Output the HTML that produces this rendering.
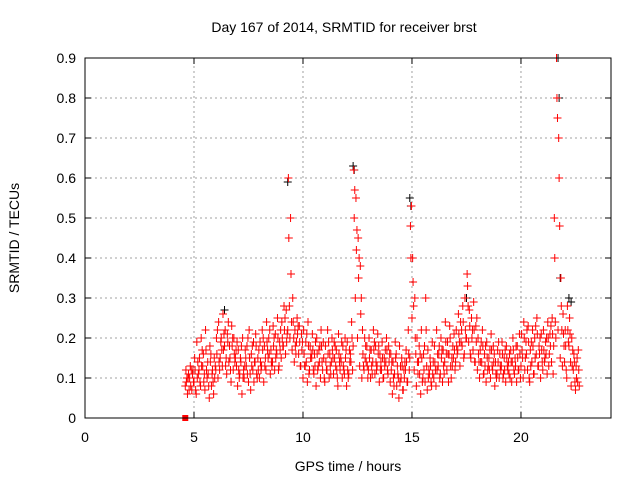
<!DOCTYPE html>
<html><head><meta charset="utf-8"><style>
body{margin:0;background:#fff}
svg{display:block;font-family:"Liberation Sans",sans-serif}
</style></head><body>
<svg id="chart" width="640" height="480">
<text x="344" y="32" text-anchor="middle" font-size="14">Day 167 of 2014, SRMTID for receiver brst</text>
<text x="348" y="471" text-anchor="middle" font-size="14">GPS time / hours</text>
<text x="19" y="238" text-anchor="middle" font-size="14" transform="rotate(-90 19 238)">SRMTID / TECUs</text>
<g id="grid"></g><g id="axes"></g><g id="marks"></g>
<rect x="85" y="58" width="526" height="360" fill="none" stroke="#000"/>
</svg>
<script>
const xTicks=[0,5,10,15,20];
const yTicks=[0,0.1,0.2,0.3,0.4,0.5,0.6,0.7,0.8,0.9];
const times=[4.6,4.7,4.8,4.9,
5.0,5.1,5.2,5.3,5.4,5.5,5.6,5.7,5.8,5.9,
6.0,6.1,6.2,6.3,6.4,6.5,6.6,6.7,6.8,6.9,
7.0,7.1,7.2,7.3,7.4,7.5,7.6,7.7,7.8,7.9,
8.0,8.1,8.2,8.3,8.4,8.5,8.6,8.7,8.8,8.9,
9.0,9.1,9.2,9.3,9.4,9.5,9.6,9.7,9.8,9.9,
10.0,10.1,10.2,10.3,10.4,10.5,10.6,10.7,10.8,10.9,
11.0,11.1,11.2,11.3,11.4,11.5,11.6,11.7,11.8,11.9,
12.0,12.1,12.2,12.3,12.4,12.5,12.6,12.7,12.8,12.9,
13.0,13.1,13.2,13.3,13.4,13.5,13.6,13.7,13.8,13.9,
14.0,14.1,14.2,14.3,14.4,14.5,14.6,14.7,14.8,14.9,
15.0,15.1,15.2,15.3,15.4,15.5,15.6,15.7,15.8,15.9,
16.0,16.1,16.2,16.3,16.4,16.5,16.6,16.7,16.8,16.9,
17.0,17.1,17.2,17.3,17.4,17.5,17.6,17.7,17.8,17.9,
18.0,18.1,18.2,18.3,18.4,18.5,18.6,18.7,18.8,18.9,
19.0,19.1,19.2,19.3,19.4,19.5,19.6,19.7,19.8,19.9,
20.0,20.1,20.2,20.3,20.4,20.5,20.6,20.7,20.8,20.9,
21.0,21.1,21.2,21.3,21.4,21.5,21.6,21.7,21.8,21.9,
22.0,22.1,22.2,22.3,22.4,22.5,22.6];
const redA=[.08,.06,.10,.07,
.09,.06,.11,.08,.13,.07,.10,.05,.08,.06,
.12,.10,.15,.13,.18,.11,.14,.09,.12,.15,
.08,.11,.06,.10,.13,.09,.07,.12,.14,.10,
.10,.13,.09,.12,.15,.11,.14,.12,.16,.13,
.15,.18,.16,.22,.20,.17,.14,.19,.16,.13,
.10,.13,.09,.12,.15,.11,.08,.13,.10,.12,
.09,.12,.10,.14,.11,.13,.08,.12,.10,.11,
.08,.11,.14,.18,.30,.20,.13,.10,.12,.14,
.12,.10,.14,.11,.13,.09,.12,.10,.14,.11,
.09,.06,.11,.08,.05,.10,.07,.12,.09,.15,
.25,.12,.08,.14,.06,.10,.09,.07,.11,.08,
.10,.08,.13,.11,.09,.14,.12,.16,.10,.15,
.14,.17,.13,.18,.16,.20,.19,.15,.17,.14,
.12,.10,.14,.11,.09,.13,.10,.12,.08,.11,
.10,.13,.11,.09,.12,.10,.14,.11,.09,.12,
.13,.10,.15,.12,.09,.14,.11,.16,.13,.10,
.12,.15,.11,.16,.14,.18,.20,.22,.15,.13,
.14,.10,.18,.08,.12,.07,.09];
const redB=[.12,.10,.13,.11,
.15,.19,.12,.20,.16,.22,.14,.18,.11,.15,
.20,.24,.19,.26,.22,.21,.18,.23,.20,.17,
.17,.15,.20,.13,.18,.22,.16,.19,.21,.15,
.19,.22,.18,.24,.20,.17,.23,.21,.25,.19,
.24,.28,.27,.60,.50,.30,.22,.25,.23,.21,
.22,.19,.24,.18,.21,.16,.20,.17,.22,.19,
.18,.22,.16,.20,.19,.17,.21,.15,.18,.20,
.19,.17,.24,.62,.55,.45,.38,.22,.20,.18,
.20,.17,.22,.18,.21,.16,.19,.15,.20,.18,
.16,.14,.19,.13,.18,.15,.12,.17,.22,.48,
.40,.30,.20,.18,.22,.16,.30,.17,.15,.19,
.18,.22,.16,.20,.17,.24,.19,.23,.15,.21,
.22,.26,.24,.28,.30,.36,.27,.25,.29,.23,
.20,.17,.22,.16,.19,.15,.21,.18,.14,.17,
.16,.19,.15,.18,.14,.17,.20,.15,.18,.21,
.21,.24,.19,.23,.17,.22,.20,.25,.18,.21,
.22,.19,.24,.21,.25,.50,.90,.70,.35,.26,
.22,.28,.25,.20,.16,.13,.17];
const redC=[.09,.11,.08,.12,
.12,.10,.15,.13,.09,.17,.11,.14,.12,.10,
.16,.14,.20,.17,.13,.19,.15,.18,.16,.13,
.12,.14,.10,.17,.11,.15,.13,.09,.18,.12,
.14,.17,.13,.19,.16,.14,.18,.15,.20,.17,
.20,.22,.19,.45,.36,.24,.18,.21,.19,.17,
.16,.14,.18,.15,.17,.13,.16,.14,.18,.15,
.14,.16,.13,.17,.15,.12,.16,.14,.13,.15,
.12,.14,.20,.50,.42,.35,.26,.16,.15,.13,
.15,.13,.17,.14,.16,.12,.15,.13,.17,.14,
.12,.10,.15,.11,.09,.13,.10,.14,.16,.40,
.34,.20,.14,.11,.15,.12,.22,.10,.13,.11,
.14,.12,.18,.15,.13,.19,.16,.20,.13,.17,
.18,.21,.19,.24,.22,.33,.23,.20,.22,.19,
.16,.14,.18,.13,.15,.12,.17,.14,.11,.14,
.13,.16,.12,.15,.11,.14,.17,.13,.15,.16,
.17,.20,.16,.19,.13,.18,.15,.21,.16,.17,
.17,.16,.20,.18,.21,.40,.80,.60,.28,.21,
.18,.22,.21,.13,.14,.10,.12];
const redD=[.10,.07,.12,.09,
.07,.14,.09,.17,.11,.12,.08,.16,.09,.13,
.22,.12,.17,.21,.15,.24,.12,.20,.14,.19,
.10,.18,.12,.15,.20,.11,.18,.14,.11,.17,
.12,.20,.15,.17,.22,.13,.20,.17,.12,.22,
.18,.25,.21,.28,.24,.20,.16,.23,.13,.19,
.13,.21,.11,.16,.12,.19,.12,.18,.14,.10,
.12,.19,.11,.15,.18,.10,.14,.19,.12,.17,
.10,.16,.12,.57,.47,.40,.30,.13,.18,.10,
.17,.11,.19,.12,.18,.14,.10,.17,.12,.16,
.14,.08,.16,.10,.13,.07,.14,.09,.12,.53,
.28,.16,.11,.16,.09,.18,.13,.12,.09,.14,
.12,.16,.10,.17,.11,.16,.09,.13,.18,.12,
.16,.19,.22,.15,.20,.28,.16,.22,.14,.25,
.14,.19,.11,.18,.12,.17,.13,.16,.10,.19,
.12,.10,.17,.13,.16,.09,.12,.18,.12,.10,
.15,.12,.22,.10,.19,.11,.23,.13,.20,.14,
.14,.20,.13,.23,.11,.24,.75,.48,.22,.18,
.12,.19,.14,.17,.09,.15,.08];
const blackT=[6.4,9.3,12.3,12.35,14.9,14.95,17.5,21.7,21.75,21.8,22.2,22.3];
const blackV=[.27,.59,.63,.62,.55,.53,.30,.90,.80,.35,.30,.29];
const sqT=[4.6], sqV=[0];

const NS='http://www.w3.org/2000/svg';
const X0=85,X1=611,Y0=418,Y1=58,XMAX=24.13,YMAX=0.9;
const xs=t=>X0+t/XMAX*(X1-X0);
const ys=v=>Y0-v/YMAX*(Y0-Y1);
function mk(tag,attrs,parent){const e=document.createElementNS(NS,tag);for(const k in attrs)e.setAttribute(k,attrs[k]);parent.appendChild(e);return e;}
const grid=document.getElementById('grid'),axes=document.getElementById('axes'),marks=document.getElementById('marks');
yTicks.forEach(v=>{const y=ys(v);
 if(v>0&&v<0.9){const g=mk('line',{x1:X0,x2:X1,y1:y,y2:y,stroke:'#a0a0a0','stroke-dasharray':'2,3'},grid);
 
 }
 mk('line',{x1:X0,x2:X0+6,y1:y,y2:y,stroke:'#000'},axes);
 mk('line',{x1:X1,x2:X1-6,y1:y,y2:y,stroke:'#000'},axes);
 const t=mk('text',{x:X0-9,y:y+5,'text-anchor':'end','font-size':14},axes);t.textContent=v===0?'0':v.toFixed(1);
 
 
});
xTicks.forEach(v=>{const x=xs(v);
 if(v>0){const g=mk('line',{x1:x,x2:x,y1:Y0,y2:Y1,stroke:'#a0a0a0','stroke-dasharray':'2,3'},grid);
 
 }
 mk('line',{x1:x,x2:x,y1:Y0,y2:Y0-6,stroke:'#000'},axes);
 mk('line',{x1:x,x2:x,y1:Y1,y2:Y1+6,stroke:'#000'},axes);
 const t=mk('text',{x:x,y:Y0+24,'text-anchor':'middle','font-size':14},axes);t.textContent=v;
 
 
});
function plus(t,v,col,name){const x=xs(t),y=ys(v);
 const p=mk('path',{d:`M${x-4},${y}H${x+4}M${x},${y-4}V${y+4}`,stroke:col,'stroke-width':1,fill:'none'},marks);
 
 }
blackT.forEach((t,i)=>plus(t,blackV[i],'#000','black-point'));
times.forEach((t,i)=>{plus(t,redA[i],'#f00','red-point');plus(t+0.05,redC[i],'#f00','red-point');plus(t+0.03,redB[i],'#f00','red-point');plus(t+0.075,redD[i],'#f00','red-point');});
sqT.forEach((t,i)=>{const r=mk('rect',{x:xs(t)-3,y:ys(sqV[i])-3,width:6,height:6,fill:'#f00'},marks);
 
 });
</script>
</body></html>
